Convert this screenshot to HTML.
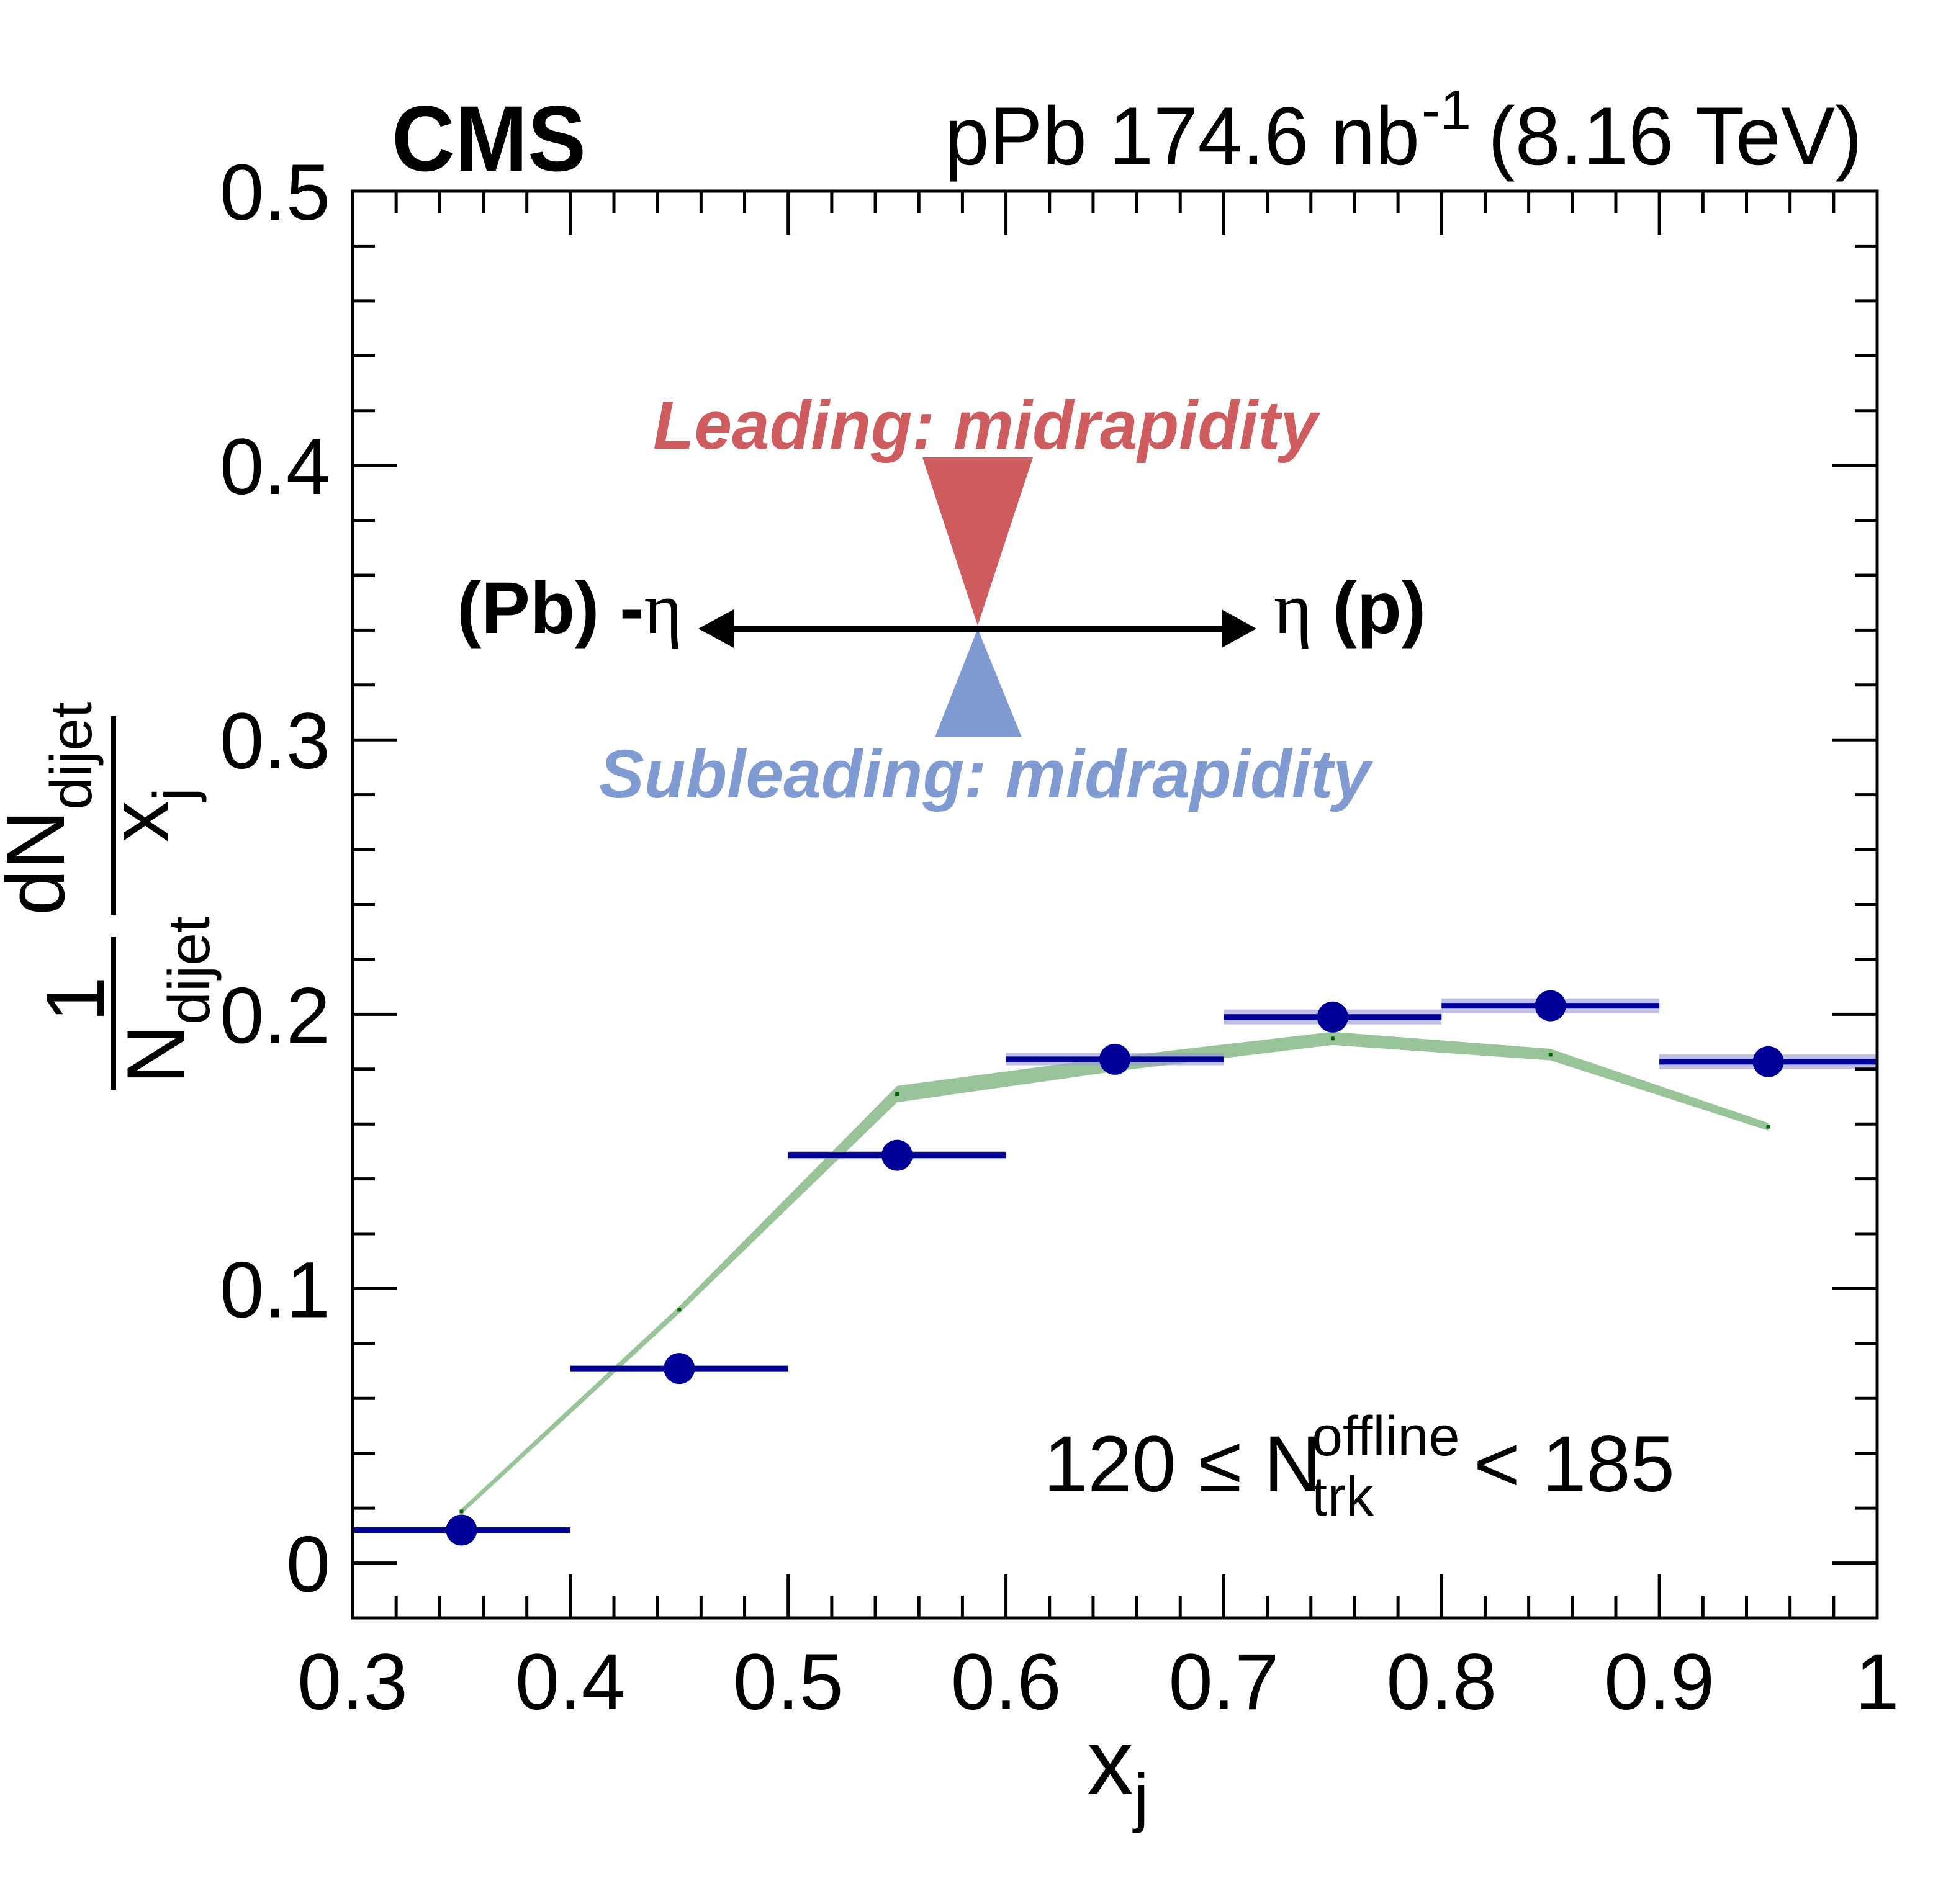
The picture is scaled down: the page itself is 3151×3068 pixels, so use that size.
<!DOCTYPE html>
<html><head><meta charset="utf-8"><style>
html,body{margin:0;padding:0;background:#fff;}
svg{display:block;}
text{font-family:"Liberation Sans",sans-serif;}
</style></head><body>
<svg id="chart" width="3151" height="3068" viewBox="0 0 3151 3068" xmlns="http://www.w3.org/2000/svg">
<rect x="0" y="0" width="3151" height="3068" fill="#fff"/>
<g id="bands"></g>
<g id="marks"></g>
<g id="axes"></g>

<text x="631" y="275" font-size="150" font-weight="bold" textLength="313" lengthAdjust="spacingAndGlyphs">CMS</text>
<g>
<text x="1522" y="265" font-size="133" textLength="765" lengthAdjust="spacingAndGlyphs">pPb 174.6 nb</text>
<text x="2290" y="208" font-size="90">-1</text>
<text x="2397" y="265" font-size="133" textLength="603" lengthAdjust="spacingAndGlyphs">(8.16 TeV)</text>
</g>

<text x="1052" y="723" font-size="110" font-weight="bold" font-style="italic" fill="#cf5d5f" textLength="1071" lengthAdjust="spacingAndGlyphs">Leading: midrapidity</text>
<polygon points="1486,737 1664,737 1575,1008" fill="#cf5d5f"/>
<polygon points="1575,1013 1506,1188 1646,1188" fill="#7f9bd2"/>
<g>
<rect x="1180" y="1008" width="790" height="10" fill="#000"/>
<polygon points="1125,1013 1182,982 1182,1044" fill="#000"/>
<polygon points="2024,1013 1968,982 1968,1044" fill="#000"/>
</g>
<text x="736" y="1020" font-size="118" font-weight="bold">(Pb) -<tspan font-family="Liberation Serif,serif" font-weight="normal">η</tspan></text>
<text x="2052" y="1020" font-size="118" font-weight="bold"><tspan font-family="Liberation Serif,serif" font-weight="normal">η</tspan> (p)</text>
<text x="965" y="1285" font-size="110" font-weight="bold" font-style="italic" fill="#7f9bd2" textLength="1243" lengthAdjust="spacingAndGlyphs">Subleading: midrapidity</text>

<g>
<text x="1681" y="2403" font-size="128">120 ≤ N</text>
<text x="2113" y="2345" font-size="90">offline</text>
<text x="2113" y="2442" font-size="90">trk</text>
<text x="2374" y="2403" font-size="128">&lt; 185</text>
</g>

<g>
<text x="1751" y="2891" font-size="150">x</text>
<text x="1827" y="2932" font-size="105">j</text>
</g>

<g transform="translate(183,1800) rotate(-90)">
<rect x="44" y="-4" width="246" height="8" fill="#000"/>
<rect x="326" y="-4" width="320" height="8" fill="#000"/>
<text x="153" y="-16" font-size="133">1</text>
<text x="53" y="114" font-size="133">N<tspan font-size="95" dy="40">dijet</tspan></text>
<text x="325" y="-80" font-size="133">dN<tspan font-size="95" dy="44">dijet</tspan></text>
<text x="443" y="87" font-size="133">x<tspan font-size="95" dy="43">j</tspan></text>
</g>
</svg>
<script>
const categories = [0.35, 0.45, 0.55, 0.65, 0.75, 0.85, 0.95];
const binHalfWidth = 0.05;
const dataValues = [0.012, 0.0709, 0.1486, 0.1836, 0.199, 0.2031, 0.1827];
const dataSys = [0.0005, 0.0008, 0.0015, 0.0022, 0.0027, 0.0027, 0.0027];
const modelValues = [0.0188, 0.0923, 0.1709, 0.1818, 0.1912, 0.1853, 0.159];
const modelErr = [0.0010, 0.0013, 0.0030, 0.0026, 0.0024, 0.0021, 0.0014];
const xTickLabels = ["0.3","0.4","0.5","0.6","0.7","0.8","0.9","1"];
const xTickValues = [0.3,0.4,0.5,0.6,0.7,0.8,0.9,1.0];
const yTickLabels = ["0","0.1","0.2","0.3","0.4","0.5"];
const yTickValues = [0,0.1,0.2,0.3,0.4,0.5];

const NS = "http://www.w3.org/2000/svg";
const L = 568, R = 3024, T = 308, B = 2607;
const XMIN = 0.3, XMAX = 1.0, YMIN = -0.02, YMAX = 0.5;
function xs(v){ return L + (v - XMIN) / (XMAX - XMIN) * (R - L); }
function ys(v){ return B - (v - YMIN) / (YMAX - YMIN) * (B - T); }
function mk(tag, attrs, parent){
  const e = document.createElementNS(NS, tag);
  for (const k in attrs) e.setAttribute(k, attrs[k]);
  parent.appendChild(e);
  return e;
}
const bands = document.getElementById('bands');
const marks = document.getElementById('marks');
const axes = document.getElementById('axes');

let up = [], dn = [];
for (let i = 0; i < categories.length; i++) {
  up.push(xs(categories[i]) + ',' + ys(modelValues[i] + modelErr[i]));
  dn.unshift(xs(categories[i]) + ',' + ys(modelValues[i] - modelErr[i]));
}
const band = mk('polygon', {points: up.concat(dn).join(' '), fill: '#99c499'}, bands);


for (let i = 0; i < categories.length; i++) {
  const m = mk('rect', {x: xs(categories[i]) - 3, y: ys(modelValues[i]) - 3, width: 6, height: 6, fill: '#006600'}, bands);
  
  
}

for (let i = 0; i < categories.length; i++) {
  const x0 = xs(categories[i] - binHalfWidth), x1 = xs(categories[i] + binHalfWidth);
  const s = mk('rect', {x: x0, y: ys(dataValues[i] + dataSys[i]), width: x1 - x0,
    height: Math.max(2, ys(dataValues[i] - dataSys[i]) - ys(dataValues[i] + dataSys[i])), fill: '#9999d6', 'fill-opacity': 0.62}, marks);
  
  
  const h = mk('rect', {x: x0, y: ys(dataValues[i]) - 4.5, width: x1 - x0, height: 9, fill: '#000099'}, marks);
  
  
  const c = mk('ellipse', {cx: xs(categories[i]), cy: ys(dataValues[i]), rx: 25, ry: 25, fill: '#000099'}, marks);
  
  
}

const fr = mk('rect', {x: L, y: T, width: R - L, height: B - T, fill: 'none', stroke: '#000', 'stroke-width': 5}, axes);



for (let k = 0; k <= 35; k++) {
  const v = XMIN + k * 0.02;
  const major = (k % 5 === 0);
  const len = major ? 70 : 36;
  const x = xs(v);
  const t1 = mk('line', {x1: x, y1: B, x2: x, y2: B - len, stroke: '#000', 'stroke-width': 5}, axes);
  
  
  const t2 = mk('line', {x1: x, y1: T, x2: x, y2: T + len, stroke: '#000', 'stroke-width': 5}, axes);
  
  
}
for (let i = 0; i < xTickValues.length; i++) {
  const t = mk('text', {x: xs(xTickValues[i]), y: 2754, 'font-size': 128, 'text-anchor': 'middle'}, axes);
  t.textContent = xTickLabels[i];
  
  
}
for (let k = 0; k <= 26; k++) {
  const v = YMIN + k * 0.02;
  const major = (Math.abs(Math.round(v * 10) - v * 10) < 1e-6);
  const len = major ? 72 : 36;
  const y = ys(v);
  const t1 = mk('line', {x1: L, y1: y, x2: L + len, y2: y, stroke: '#000', 'stroke-width': 5}, axes);
  
  
  const t2 = mk('line', {x1: R, y1: y, x2: R - len, y2: y, stroke: '#000', 'stroke-width': 5}, axes);
  
  
}
for (let i = 0; i < yTickValues.length; i++) {
  const t = mk('text', {x: 532, y: ys(yTickValues[i]) + 46, 'font-size': 128, 'text-anchor': 'end'}, axes);
  t.textContent = yTickLabels[i];
  
  
}
</script>
</body></html>
